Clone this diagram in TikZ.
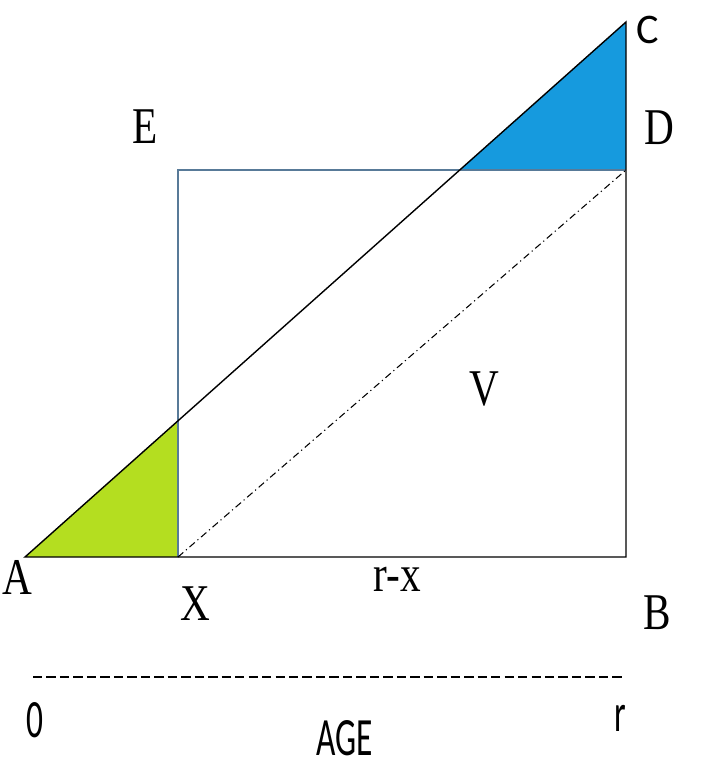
\documentclass[tikz,border=0pt]{standalone}
\usepackage{fontspec}
\newfontfamily\lblserif{Liberation Serif}
\newfontfamily\lblsans{Carlito}
\usetikzlibrary{positioning}
\definecolor{leafgreen}{RGB}{180,222,32}
\definecolor{skyblue}{RGB}{22,154,222}
\definecolor{boxblue}{RGB}{88,122,152}

\begin{document}
\begin{tikzpicture}[x=0.03cm, y=-0.03cm,
  pt/.style={font=\lblserif\fontsize{44}{48}\selectfont, inner sep=0pt},
  sanslbl/.style={font=\lblsans\fontsize{36}{40}\selectfont, inner sep=0pt},
  axislbl/.style={font=\lblsans\fontsize{46}{50}\selectfont, inner sep=0pt},
  edge/.style={line width=1.2pt},
  boxline/.style={boxblue, line width=0.9pt},
  chord/.style={line width=0.9pt, dash pattern=on 6pt off 3pt on 1pt off 3pt},
  ageline/.style={line width=1.5pt, dash pattern=on 8pt off 3.5pt}
]
\useasboundingbox (0,0) rectangle (703,770);
% corners of the square and triangle
\coordinate (a) at (25,557);
\coordinate (x) at (178,557);
\coordinate (b) at (626,557);
\coordinate (d) at (626,170);
\coordinate (c) at (626,22);
\coordinate (e) at (178,170);
\coordinate (g) at (intersection of a--c and x--e);
\coordinate (h) at (intersection of a--c and e--d);
% age axis
\coordinate (o) at (33,677);
\coordinate (r) at (625,677);

\fill[leafgreen] (a) -- (x) -- (g) -- cycle;
\fill[skyblue] (h) -- (d) -- (c) -- cycle;
\draw[boxline] (x) -- (e) -- (d);
\draw[edge] (a) -- (b) -- (c) -- cycle;
\draw[chord] (x) -- (d);
\draw[ageline] (o) -- (r);

\node[sanslbl] (lc) at (648,30) {C};
\node[pt] (le) at (145,127) {\scalebox{0.8}[1]{E}};
\node[pt] (ld) at (659,128) {\scalebox{0.8}[1]{D}};
\node[pt] (lv) at (484,389) {\scalebox{0.8}[1]{V}};
\node[pt] (la) at (17,577) {\scalebox{0.8}[1]{A}};
\node[pt] (lx) at (195,604) {\scalebox{0.8}[1]{X}};
\node[pt] (lrx) at (397,579) {\scalebox{0.8}[1]{r-x}};
\node[pt] (lb) at (657,613) {\scalebox{0.8}[1]{B}};
\node[axislbl] (l0) at (35,720) {\scalebox{0.62}[1]{0}};
\node[axislbl] (lage) at (345,738) {\scalebox{0.62}[1]{AGE}};
\node[axislbl] (lr) at (620,718) {\scalebox{0.62}[1]{r}};
\end{tikzpicture}
\end{document}
